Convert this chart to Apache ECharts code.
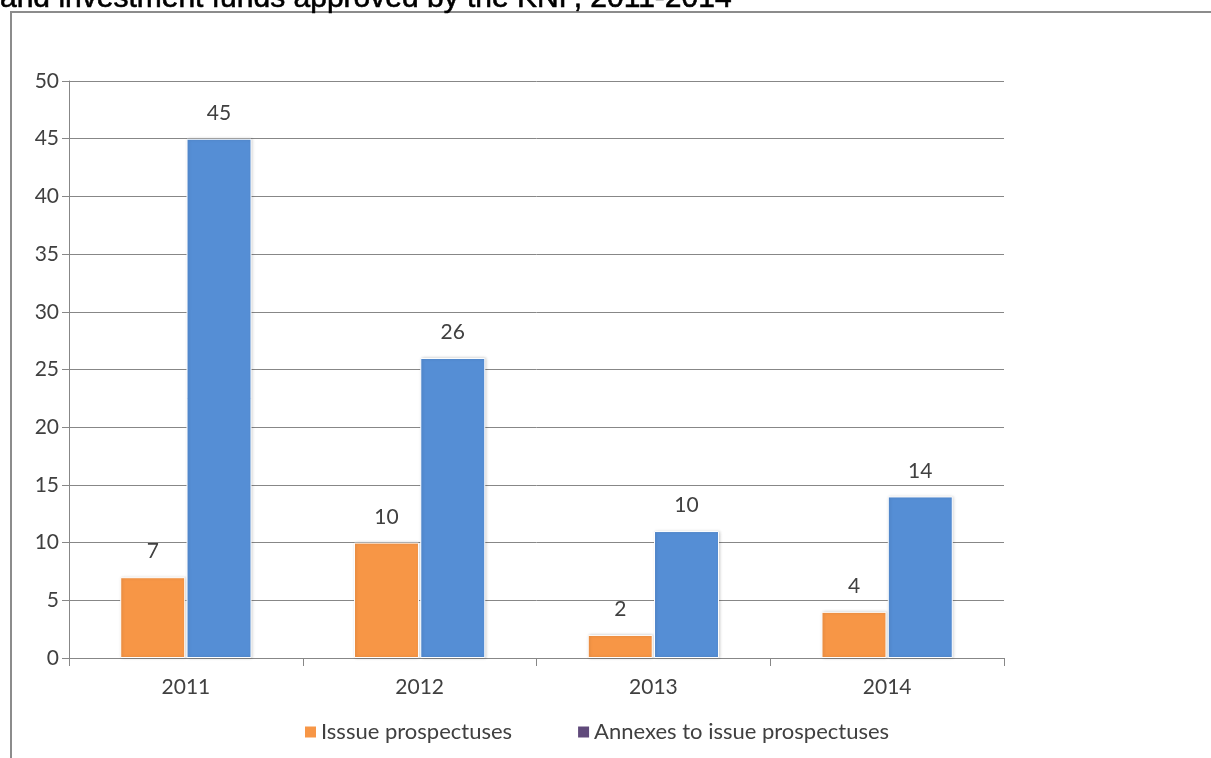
<!DOCTYPE html>
<html>
<head>
<meta charset="utf-8">
<script src="https://cdn.jsdelivr.net/npm/echarts@6/dist/echarts.min.js"></script>
<style>
html,body{margin:0;padding:0;background:#fff;}
#chart{width:1211px;height:758px;}
</style>
</head>
<body>
<div id="chart"></div>
<script>
const titleText = 'and investment funds approved by the KNF, 2011-2014';
const categories = ['2011', '2012', '2013', '2014'];
const seriesNames = ['Isssue prospectuses', 'Annexes to issue prospectuses'];
const issueValues = [7, 10, 2, 4];
const annexValues = [45, 26, 11, 14];
const issueLabels = ['7', '10', '2', '4'];
const annexLabels = ['45', '26', '10', '14'];
const yTicks = [0, 5, 10, 15, 20, 25, 30, 35, 40, 45, 50];

const chart = echarts.init(document.getElementById('chart'), null, {renderer: 'canvas'});
const font = 'Lato, "Open Sans", sans-serif';
const textColor = '#404040';
const lineColor = '#878787';

function mkSeries(name, values, labels, color) {
  return {
    name: name,
    type: 'bar',
    barWidth: 65,
    barGap: '2%',
    data: values,
    itemStyle: {
      color: color,
      borderColor: '#ffffff',
      borderWidth: 1,
      shadowColor: 'rgba(0,0,0,0.18)',
      shadowBlur: 3,
      shadowOffsetX: 1,
      shadowOffsetY: 0
    },
    label: {
      show: true,
      position: 'top',
      distance: 15,
      color: textColor,
      fontFamily: font,
      fontSize: 21,
      formatter: p => labels[p.dataIndex]
    },
    emphasis: {disabled: true},
    animation: false
  };
}

chart.setOption({
  animation: false,
  backgroundColor: '#ffffff',
  grid: {left: 69, right: 207, top: 81, bottom: 100, containLabel: false},
  graphic: [
    {
      type: 'rect',
      shape: {x: 11, y: 12, width: 1300, height: 800},
      style: {fill: 'none', stroke: '#8c8c8c', lineWidth: 2},
      silent: true
    },
    {
      type: 'text',
      x: 0,
      y: -16,
      style: {
        text: titleText,
        fontFamily: '"Liberation Sans", Arial, sans-serif',
        fontSize: 30,
        fill: '#000000',
        stroke: '#000000',
        lineWidth: 0.6
      },
      silent: true
    }
  ],
  legend: {
    left: 300,
    top: 716,
    itemWidth: 11,
    itemHeight: 11,
    itemGap: 66,
    icon: 'rect',
    itemStyle: {borderWidth: 0, shadowBlur: 0},
    textStyle: {color: textColor, fontFamily: font, fontSize: 22},
    data: [
      {name: seriesNames[0], itemStyle: {color: '#F79646', borderWidth: 0}},
      {name: seriesNames[1], itemStyle: {color: '#604A7B', borderWidth: 0}}
    ]
  },
  xAxis: {
    type: 'category',
    data: categories,
    axisLine: {show: true, lineStyle: {color: lineColor, width: 1}},
    axisTick: {show: true, alignWithLabel: false, length: 8, lineStyle: {color: lineColor}},
    axisLabel: {color: textColor, fontFamily: font, fontSize: 21, margin: 19},
    splitLine: {show: false}
  },
  yAxis: {
    type: 'value',
    min: 0,
    max: 50,
    interval: 5,
    axisLine: {show: true, lineStyle: {color: lineColor, width: 1}},
    axisTick: {show: true, length: 7, lineStyle: {color: lineColor}},
    axisLabel: {color: textColor, fontFamily: font, fontSize: 21, margin: 10,
      formatter: v => yTicks.includes(v) ? String(v) : ''},
    splitLine: {show: true, lineStyle: {color: lineColor, width: 1}}
  },
  series: [
    mkSeries(seriesNames[0], issueValues, issueLabels, '#F79646'),
    mkSeries(seriesNames[1], annexValues, annexLabels, '#558ED5')
  ]
});
</script>
</body>
</html>
